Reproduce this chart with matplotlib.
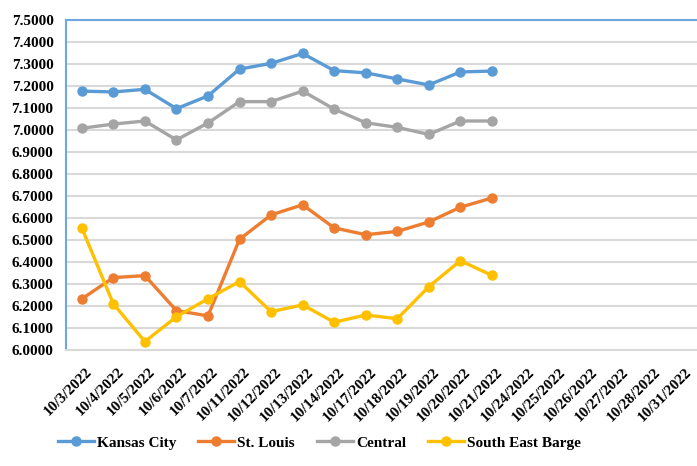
import matplotlib
matplotlib.use("Agg")
import matplotlib.pyplot as plt
import matplotlib.transforms as mtransforms
from matplotlib.lines import Line2D

dates = ["10/3/2022", "10/4/2022", "10/5/2022", "10/6/2022", "10/7/2022",
         "10/11/2022", "10/12/2022", "10/13/2022", "10/14/2022", "10/17/2022",
         "10/18/2022", "10/19/2022", "10/20/2022", "10/21/2022", "10/24/2022",
         "10/25/2022", "10/26/2022", "10/27/2022", "10/28/2022", "10/31/2022"]

kansas_city = [7.177, 7.173, 7.185, 7.097, 7.155, 7.277, 7.303, 7.348, 7.270,
               7.260, 7.232, 7.205, 7.264, 7.268]
st_louis = [6.232, 6.329, 6.338, 6.179, 6.155, 6.503, 6.614, 6.660, 6.555,
            6.524, 6.539, 6.582, 6.649, 6.691]
central = [7.008, 7.027, 7.041, 6.955, 7.032, 7.129, 7.129, 7.177, 7.095,
           7.033, 7.012, 6.980, 7.041, 7.041]
se_barge = [6.555, 6.210, 6.038, 6.151, 6.233, 6.311, 6.174, 6.205, 6.126,
            6.159, 6.142, 6.288, 6.406, 6.339]

series = [("Kansas City", kansas_city, "#5B9BD5"),
          ("St. Louis", st_louis, "#ED7D31"),
          ("Central", central, "#A5A5A5"),
          ("South East Barge", se_barge, "#FFC000")]

plt.rcParams['font.family'] = ['Liberation Serif', 'DejaVu Serif']
plt.rcParams['font.weight'] = 'bold'
FS = 11

fig = plt.figure(figsize=(6.97, 4.66), dpi=100)
ax = fig.add_axes([0.0947, 0.249, 0.9053, 0.708])

x_all = list(range(len(dates)))
for name, vals, col in series:
    ax.plot(x_all[:len(vals)], vals, color=col, lw=2.4, marker='o',
            markersize=6.5, label=name, zorder=3)

ax.set_xlim(-0.5, len(dates) - 0.5)
ax.set_ylim(6.0, 7.5)
yt = [6.0 + 0.1 * i for i in range(16)]
ax.set_yticks(yt)
ax.set_yticklabels([f"{v:.4f}" for v in yt], fontsize=FS, fontweight='bold')
ax.set_xticks(x_all)
ax.set_xticklabels(dates, rotation=45, ha='right', rotation_mode='anchor',
                   fontsize=FS, fontweight='bold')
ax.tick_params(axis='y', length=0, pad=9)
ax.tick_params(axis='x', length=0, pad=11)
offset = mtransforms.ScaledTranslation(4 / 100, 0, fig.dpi_scale_trans)
for lab in ax.get_xticklabels():
    lab.set_transform(lab.get_transform() + offset)
ax.grid(axis='y', color='#D9D9D9', lw=1.5, zorder=0)
ax.set_axisbelow(True)

ax.spines['right'].set_visible(False)
ax.spines['bottom'].set_color('#D9D9D9')
ax.spines['bottom'].set_linewidth(1.5)
ax.spines['left'].set_color('#6FA8DC')
ax.spines['left'].set_linewidth(1.5)
ax.spines['top'].set_color('#6FA8DC')
ax.spines['top'].set_linewidth(1.5)

handles = [Line2D([0], [0], color=c, lw=2.4, marker='o', markersize=6.5)
           for _, _, c in series]
fig.legend(handles, [n for n, _, _ in series], loc='center left',
           bbox_to_anchor=(0.063, 0.05), ncol=4, frameon=False,
           handlelength=2.35, handletextpad=0.2,
           columnspacing=1.45, prop={'weight': 'bold', 'size': FS})

fig.savefig("out.png", dpi=100)
